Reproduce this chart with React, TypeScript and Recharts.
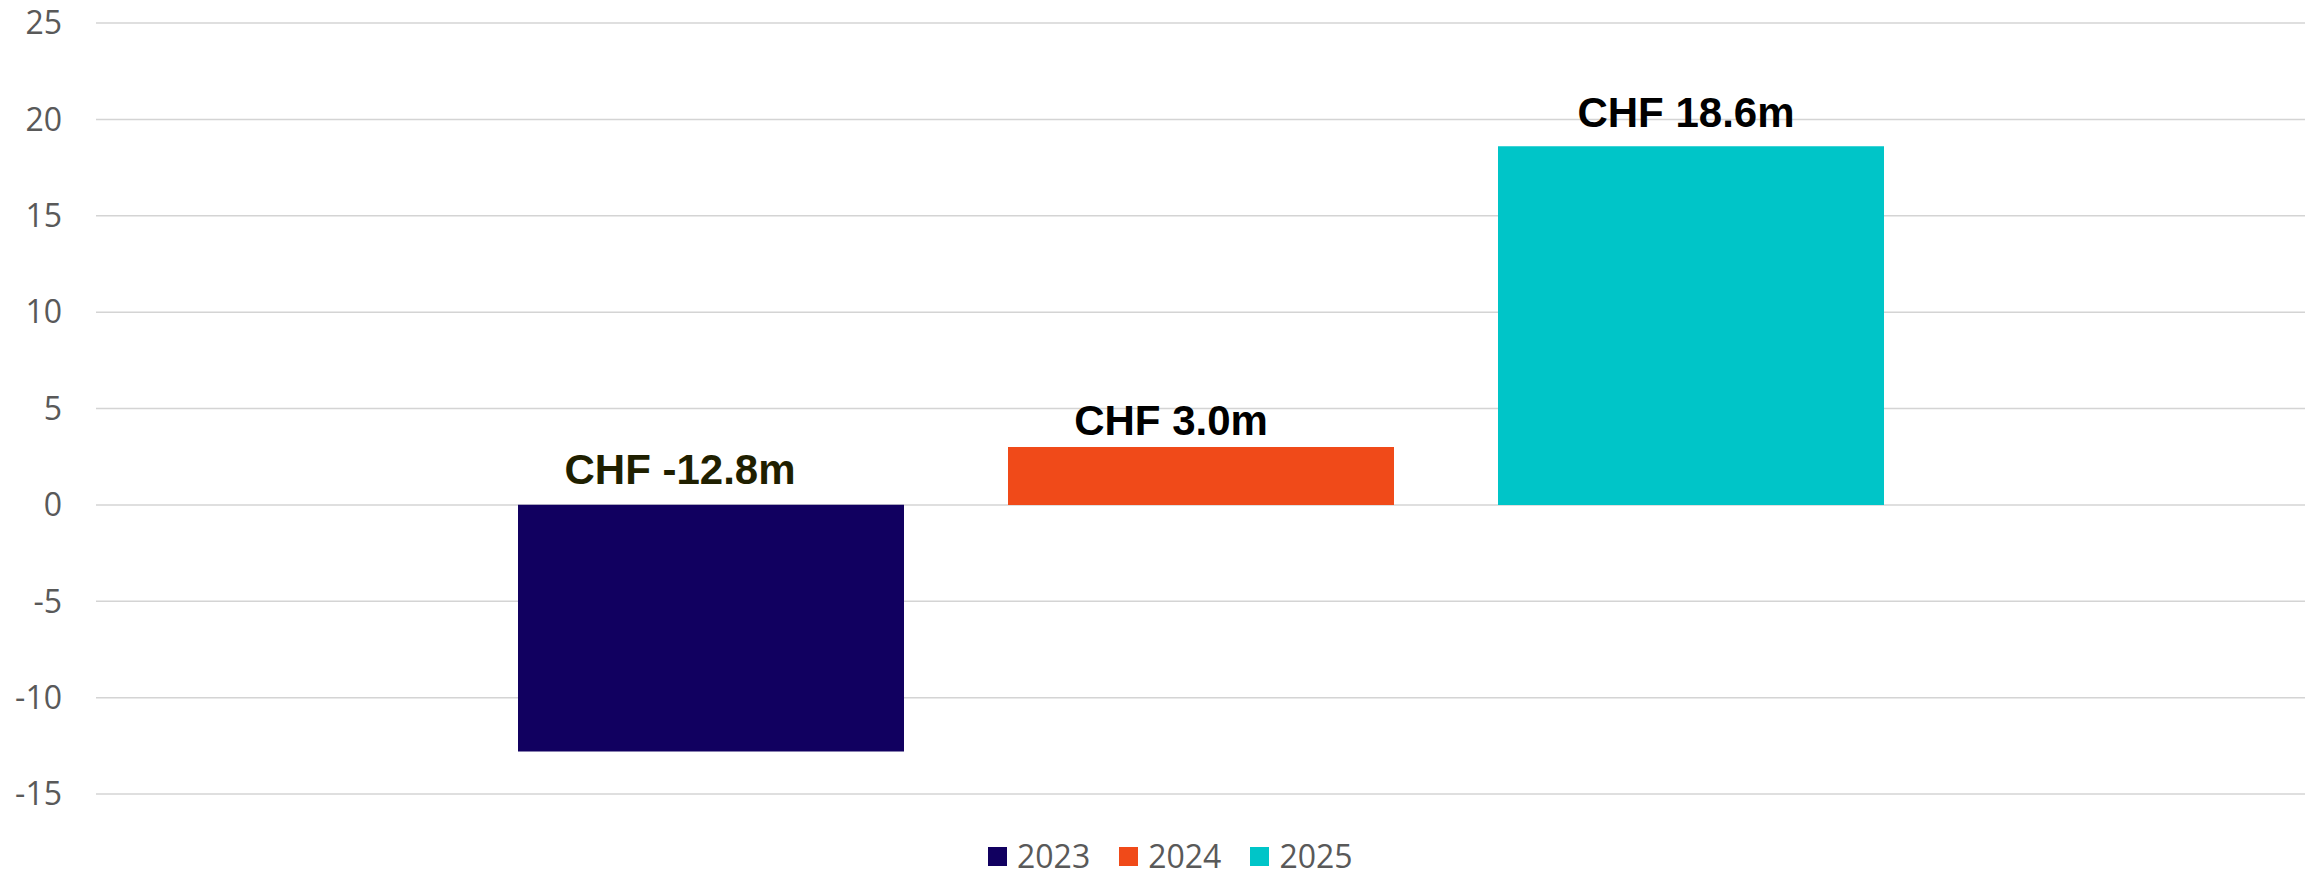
import { BarChart, Bar, XAxis, YAxis, CartesianGrid, Legend, LabelList } from 'recharts';

const YEARS = ['2023', '2024', '2025'];
const VALUES = [-12.8, 3.0, 18.6];
const LABELS = ['CHF -12.8m', 'CHF 3.0m', 'CHF 18.6m'];
const Y_TICKS = [-15, -10, -5, 0, 5, 10, 15, 20, 25];

const COLORS = ['#110060', '#F04A19', '#00C5C8'];
const LABEL_COLORS = ['#1F1F00', '#000000', '#000000'];
// label nudges (dx from bar centre, rise of baseline above bar top)
const LABEL_NUDGE = [
  { dx: -31, rise: 21 },
  { dx: -30, rise: 12 },
  { dx: -5, rise: 19 },
];

const row: Record<string, string | number> = { name: 'CHF' };
YEARS.forEach((y, i) => {
  row[y] = VALUES[i];
});
const data = [row];

const TICK_FONT = '"Open Sans", "Liberation Sans", sans-serif';

function makeLabel(i: number) {
  return (props: any) => {
    const { x, y, width, height } = props;
    const top = Math.min(Number(y), Number(y) + Number(height));
    const cx = Number(x) + Number(width) / 2 + LABEL_NUDGE[i].dx;
    return (
      <text
        x={cx}
        y={top - LABEL_NUDGE[i].rise}
        textAnchor="middle"
        fill={LABEL_COLORS[i]}
        fontFamily='"Liberation Sans", Arial, sans-serif'
        fontWeight={700}
        fontSize={42}
      >
        {LABELS[i]}
      </text>
    );
  };
}

function LegendBox() {
  return (
    <div
      style={{
        boxSizing: 'border-box',
        height: 80,
        paddingTop: 46,
        paddingLeft: 988,
        display: 'flex',
        fontFamily: TICK_FONT,
        fontSize: 32,
        color: '#595959',
      }}
    >
      {YEARS.map((y, i) => (
        <div key={y} style={{ display: 'flex', alignItems: 'center', height: 32, marginRight: 29 }}>
          <span style={{ width: 19, height: 19, background: COLORS[i], marginRight: 10, display: 'inline-block' }} />
          <span style={{ lineHeight: '32px' }}>{y}</span>
        </div>
      ))}
    </div>
  );
}

export default function App() {
  return (
    <div style={{ position: 'absolute', left: 0, top: 0, background: '#fff' }}>
      <BarChart
        width={2318}
        height={874}
        data={data}
        margin={{ top: 23, right: 13, left: 16, bottom: 0 }}
        barSize={386}
        barGap={104}
      >
        <CartesianGrid vertical={false} stroke="#D4D4D4" strokeWidth={1.5} />
        <XAxis dataKey="name" hide />
        <YAxis
          width={80}
          domain={[-15, 25]}
          ticks={Y_TICKS}
          interval={0}
          axisLine={false}
          tickLine={false}
          tickSize={0}
          tickMargin={34}
          tick={{ fill: '#595959', fontSize: 32, fontFamily: TICK_FONT }}
        />
        <Legend
          verticalAlign="bottom"
          height={80}
          wrapperStyle={{ left: 0, width: 2318, bottom: 0 }}
          content={() => <LegendBox />}
        />
        {YEARS.map((y, i) => (
          <Bar key={y} dataKey={y} name={y} fill={COLORS[i]} isAnimationActive={false}>
            <LabelList dataKey={y} content={makeLabel(i)} />
          </Bar>
        ))}
      </BarChart>
    </div>
  );
}
